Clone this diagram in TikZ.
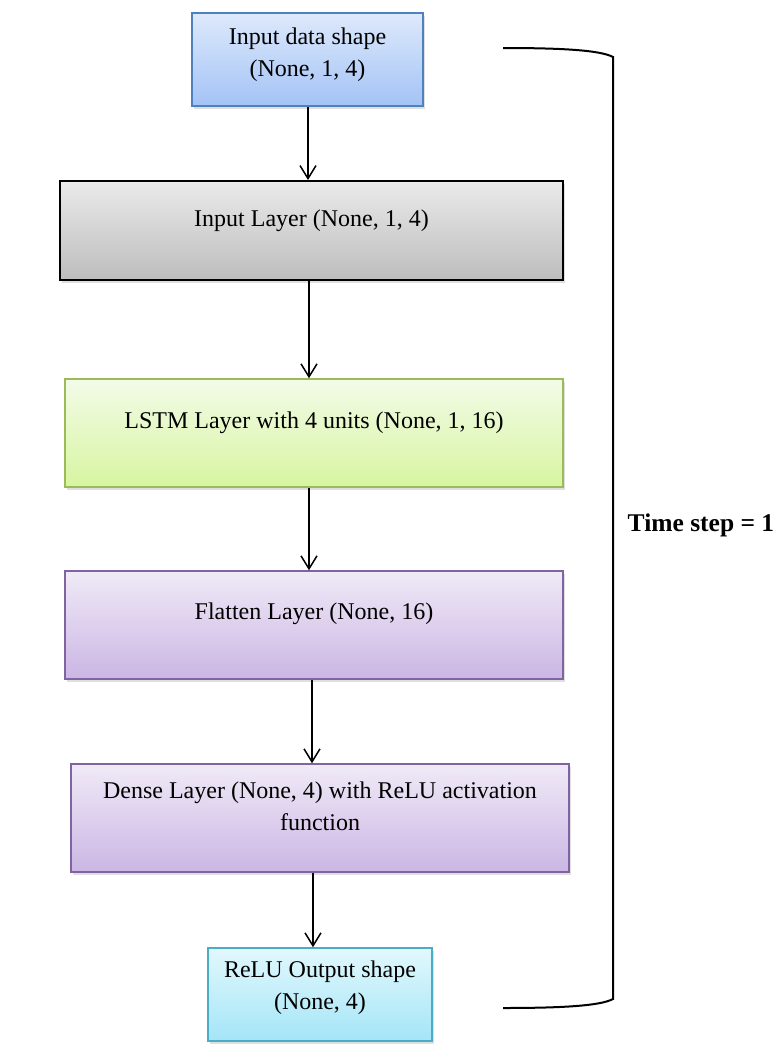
\documentclass[tikz,border=0pt]{standalone}
\usepackage{fontspec}
\setmainfont{Liberation Serif}
\usetikzlibrary{arrows.meta, positioning, shadows}
\definecolor{blueedge}{RGB}{79,129,189}
\definecolor{bluetop}{RGB}{222,233,251}
\definecolor{bluebot}{RGB}{163,195,246}
\definecolor{graytop}{RGB}{234,234,234}
\definecolor{graybot}{RGB}{189,189,189}
\definecolor{greenedge}{RGB}{155,187,89}
\definecolor{greentop}{RGB}{243,251,232}
\definecolor{greenbot}{RGB}{215,245,160}
\definecolor{purpleedge}{RGB}{128,100,162}
\definecolor{purpletop}{RGB}{240,234,247}
\definecolor{purplebot}{RGB}{203,182,228}
\definecolor{cyanedge}{RGB}{75,172,198}
\definecolor{cyantop}{RGB}{226,248,253}
\definecolor{cyanbot}{RGB}{164,229,247}
\tikzset{
  layer/.style={rectangle, line width=1.5pt,
    drop shadow={opacity=0.25, shadow xshift=2pt, shadow yshift=-3pt}},
  bluebox/.style={layer, draw=blueedge, top color=bluetop, bottom color=bluebot},
  graybox/.style={layer, draw=black, line width=2pt, top color=graytop, bottom color=graybot},
  greenbox/.style={layer, draw=greenedge, top color=greentop, bottom color=greenbot},
  purplebox/.style={layer, draw=purpleedge, top color=purpletop, bottom color=purplebot},
  cyanbox/.style={layer, draw=cyanedge, top color=cyantop, bottom color=cyanbot},
  boxtext/.style={align=center, inner sep=0pt, font=\fontsize{24}{32}\selectfont},
  arrow/.style={-{Straight Barb[length=13pt, width=16pt]}, line width=1.5pt, color=black},
  brace/.style={line width=2pt, color=black}
}

\begin{document}
\begin{tikzpicture}[x=1pt, y=-1pt]
  \useasboundingbox (0,0) rectangle (781,1058);
  % layer boxes
  \node[bluebox, minimum width=231, minimum height=93] (shp) at (307.5,59.5) {};
  \node[graybox, minimum width=503, minimum height=99] (inl) at (311.5,230.5) {};
  \node[greenbox, minimum width=498, minimum height=108] (lstm) at (314,433) {};
  \node[purplebox, minimum width=498, minimum height=108] (flat) at (314,625) {};
  \node[purplebox, minimum width=498, minimum height=108] (dense) at (320,818) {};
  \node[cyanbox, minimum width=224, minimum height=93] (out) at (320,994.5) {};
  % texts
  \node[boxtext] (shp-t) at ([yshift=4.5]shp.center) {Input data shape\\(None, 1, 4)};
  \node[boxtext] (inl-t) at ([yshift=9.5]inl.center) {Input Layer (None, 1, 4)};
  \node[boxtext] (lstm-t) at ([yshift=10]lstm.center) {LSTM Layer with 4 units (None, 1, 16)};
  \node[boxtext] (flat-t) at ([yshift=11]flat.center) {Flatten Layer (None, 16)};
  \node[boxtext] (dense-t) at ([yshift=11.5]dense.center) {Dense Layer (None, 4) with ReLU activation\\function};
  \node[boxtext] (out-t) at ([yshift=7]out.center) {ReLU Output shape\\(None, 4)};
  % arrows
  \draw[arrow] ([xshift=0.5]shp.south) -- ([xshift=0.5]shp.south |- inl.north);
  \draw[arrow] ([xshift=-2.5]inl.south) -- ([xshift=-2.5]inl.south |- lstm.north);
  \draw[arrow] ([xshift=-5]lstm.south) -- ([xshift=-5]lstm.south |- flat.north);
  \draw[arrow] ([xshift=-2]flat.south) -- ([xshift=-2]flat.south |- dense.north);
  \draw[arrow] ([xshift=-7]dense.south) -- ([xshift=-7]dense.south |- out.north);
  % time step bracket
  \coordinate (btop) at (503,48);
  \coordinate (bbot) at (503,1008);
  \draw[brace] (btop) .. controls (560,48) and (600,50) .. (613,57)
    -- (613,999) .. controls (600,1006) and (560,1008) .. (bbot);
  \node[font=\fontsize{25.5}{30}\selectfont\bfseries] (tstep) at (701,525) {Time step = 1};
\end{tikzpicture}
\end{document}
